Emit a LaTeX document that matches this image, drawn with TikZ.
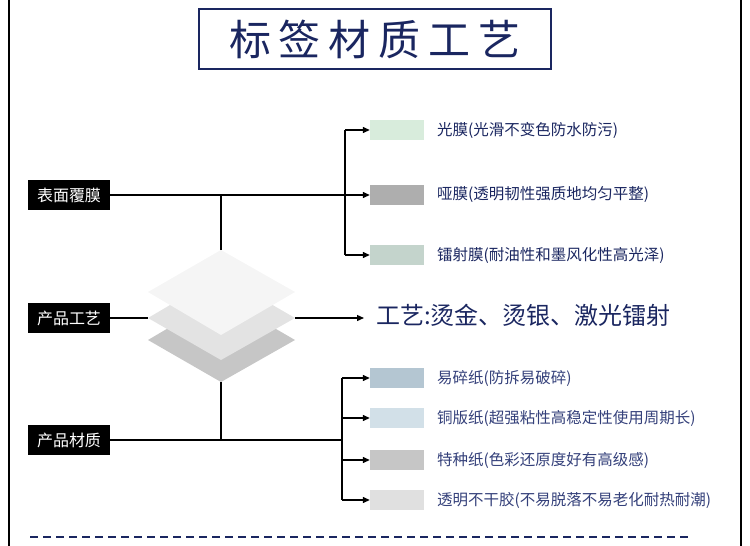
\documentclass[tikz,border=0pt]{standalone}
\usepackage{fontspec}
\setmainfont{Noto Sans CJK SC}
\usetikzlibrary{arrows.meta}
\definecolor{navy}{HTML}{1A2660}
\definecolor{bluet}{HTML}{34407A}
\definecolor{c1}{HTML}{D8ECDC}
\definecolor{c2}{HTML}{AEAEAE}
\definecolor{c3}{HTML}{C4D4CC}
\definecolor{c4}{HTML}{B4C6D2}
\definecolor{c5}{HTML}{D2E0E8}
\definecolor{c6}{HTML}{C6C6C6}
\definecolor{c7}{HTML}{E0E0E0}
\begin{document}
\begin{tikzpicture}[x=1pt,y=-1pt,
  lab/.style={fill=black,text=white,font=\fontsize{16}{16}\selectfont,minimum width=82pt,minimum height=30pt,inner sep=0pt},
  ln/.style={line width=1.3pt},
  ar/.style={line width=1.3pt,-{Triangle[length=7pt,width=6pt]}},
  sw/.style={minimum width=54pt,minimum height=20pt,inner sep=0pt},
  tx/.style={anchor=west,font=\fontsize{15.5}{15.5}\selectfont,inner sep=0pt}]
\useasboundingbox (0,0) rectangle (750,546);
\draw[line width=1.5pt] (9,0) -- (9,546);
\draw[line width=1.5pt] (741,0) -- (741,546);
\node[draw=navy,line width=2.5pt,minimum width=352pt,minimum height=60pt,text=navy,font=\fontsize{42}{42}\selectfont] (title) at (375,39) {标\hspace{8pt}签\hspace{8pt}材\hspace{8pt}质\hspace{8pt}工\hspace{8pt}艺};
% labels
\node[lab] (l1) at (69,195) {表面覆膜};
\node[lab] (l2) at (69,318) {产品工艺};
\node[lab] (l3) at (69,440) {产品材质};
% diamonds
\fill[gray!45] (148,340) -- (221,297) -- (295,340) -- (221,382) -- cycle;
\fill[gray!22] (148,318) -- (221,275) -- (295,318) -- (221,360) -- cycle;
\fill[gray!8] (148,292) -- (221,250) -- (295,292) -- (221,335) -- cycle;
\coordinate (dt) at (221,250);
\coordinate (db) at (221,382);
\coordinate (dl) at (148,318);
\coordinate (dr) at (295,318);
% top group
\coordinate (t1) at (345,195);
\draw[ln] (l1) -- (t1);
\draw[ln] (dt) -- (221,195);
\node[sw,fill=c1] (s1) at (397,130) {};
\node[sw,fill=c2] (s2) at (397,195) {};
\node[sw,fill=c3] (s3) at (397,255) {};
\draw[ln] (345,130) -- (345,255);
\draw[ar] (345,130) -- (s1.west);
\draw[ar] (t1) -- (s2.west);
\draw[ar] (345,255) -- (s3.west);
\node[tx,text=navy] (x1) at (437,130) {光膜(光滑不变色防水防污)};
\node[tx,text=navy] (x2) at (437,195) {哑膜(透明韧性强质地均匀平整)};
\node[tx,text=navy] (x3) at (437,255) {镭射膜(耐油性和墨风化性高光泽)};
% middle
\draw[ln] (l2) -- (dl);
\node[tx,text=navy,font=\fontsize{24}{24}\selectfont] (x4) at (376,315) {工艺:烫金、烫银、激光镭射};
\coordinate (ae) at (364,318);
\draw[ar] (dr) -- (ae);
% bottom
\coordinate (t3) at (342,440);
\draw[ln] (l3) -- (t3);
\draw[ln] (db) -- (221,440);
\draw[ln] (342,378) -- (342,500);
\node[sw,fill=c4] (m1) at (397,378) {};
\node[sw,fill=c5] (m2) at (397,418) {};
\node[sw,fill=c6] (m3) at (397,460) {};
\node[sw,fill=c7] (m4) at (397,500) {};
\draw[ar] (342,378) -- (m1.west);
\draw[ar] (342,418) -- (m2.west);
\draw[ar] (342,460) -- (m3.west);
\draw[ar] (342,500) -- (m4.west);
\node[tx,text=bluet] at (437,378) {易碎纸(防拆易破碎)};
\node[tx,text=bluet] at (437,418) {铜版纸(超强粘性高稳定性使用周期长)};
\node[tx,text=bluet] at (437,460) {特种纸(色彩还原度好有高级感)};
\node[tx,text=bluet] at (437,500) {透明不干胶(不易脱落不易老化耐热耐潮)};
\draw[navy,line width=1.2pt,dash pattern=on 8pt off 5pt] (30,537) -- (690,537);
\end{tikzpicture}
\end{document}
